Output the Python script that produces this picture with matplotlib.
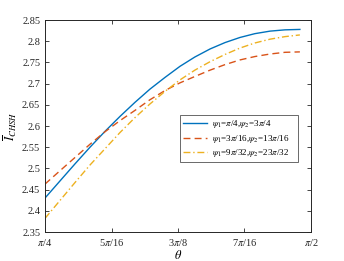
import numpy as np
import matplotlib
matplotlib.use("Agg")
import matplotlib.pyplot as plt

plt.rcParams['font.family'] = ['Liberation Serif', 'DejaVu Serif']
plt.rcParams['mathtext.fontset'] = 'stix'

# theta samples (rad)
theta = [0.785, 0.830, 0.874, 0.918, 0.963, 1.007, 1.051, 1.095, 1.140,
         1.184, 1.228, 1.273, 1.317, 1.361, 1.405, 1.450, 1.494, 1.538]

chsh_a = [2.430, 2.471, 2.511, 2.550, 2.588, 2.623, 2.656, 2.687, 2.715,
          2.741, 2.763, 2.782, 2.797, 2.809, 2.818, 2.824, 2.827, 2.828]
chsh_b = [2.463, 2.495, 2.526, 2.557, 2.587, 2.613, 2.637, 2.662, 2.684,
          2.702, 2.717, 2.732, 2.745, 2.756, 2.764, 2.770, 2.774, 2.775]
chsh_c = [2.382, 2.425, 2.467, 2.508, 2.547, 2.585, 2.620, 2.652, 2.682,
          2.709, 2.732, 2.752, 2.769, 2.784, 2.796, 2.805, 2.811, 2.815]

labels = [r'$\psi_1$=$\pi$/4,$\psi_2$=3$\pi$/4',
          r'$\psi_1$=3$\pi$/16,$\psi_2$=13$\pi$/16',
          r'$\psi_1$=9$\pi$/32,$\psi_2$=23$\pi$/32']

xticks = [np.pi/4, 5*np.pi/16, 3*np.pi/8, 7*np.pi/16, np.pi/2]
xticklabels = [r'$\pi$/4', r'5$\pi$/16', r'3$\pi$/8', r'7$\pi$/16', r'$\pi$/2']
yticks = [2.35, 2.4, 2.45, 2.5, 2.55, 2.6, 2.65, 2.7, 2.75, 2.8, 2.85]
yticklabels = ['2.35', '2.4', '2.45', '2.5', '2.55', '2.6', '2.65',
               '2.7', '2.75', '2.8', '2.85']

fig = plt.figure(figsize=(3.44, 2.61), dpi=100)
ax = fig.add_axes([0.131, 0.111, 0.773, 0.812])

ax.plot(theta, chsh_a, color='#0072BD', lw=1.0, ls='-', label=labels[0])
ax.plot(theta, chsh_b, color='#D95319', lw=1.0, ls=(0, (5, 3)), label=labels[1])
ax.plot(theta, chsh_c, color='#EDB120', lw=1.0, ls=(0, (5, 2, 1, 2)), label=labels[2])

ax.set_xlim(np.pi/4, np.pi/2)
ax.set_ylim(2.35, 2.85)
ax.set_xticks(xticks)
ax.set_xticklabels(xticklabels)
ax.set_yticks(yticks)
ax.set_yticklabels(yticklabels)
ax.tick_params(direction='in', top=True, right=True, labelsize=7.5,
               length=3, width=0.6, colors='#262626')
for s in ax.spines.values():
    s.set_linewidth(0.7)
    s.set_color('#262626')

ax.set_xlabel(r'$\theta$', fontsize=9, labelpad=1)
ax.set_ylabel(r'$\overline{I}_{CHSH}$', fontsize=9, labelpad=2)

leg = ax.legend(loc='lower left', bbox_to_anchor=(0.508, 0.33, 0.443, 0.217),
                mode='expand', fontsize=6.5, frameon=True, fancybox=False,
                edgecolor='#262626', handlelength=2.6, borderpad=0.35,
                labelspacing=0.25, handletextpad=0.6, borderaxespad=0)
leg.get_frame().set_linewidth(0.6)

fig.savefig('out.png', dpi=100)
